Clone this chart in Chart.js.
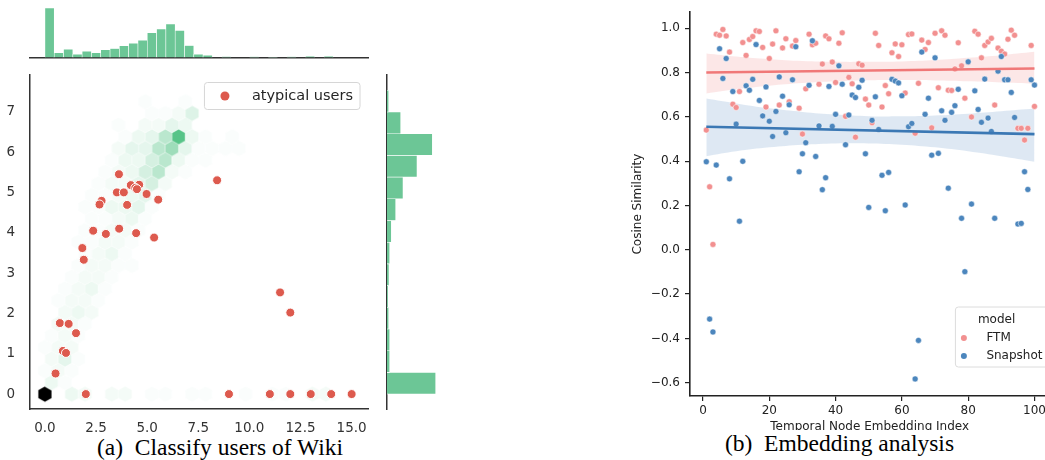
<!DOCTYPE html>
<html>
<head>
<meta charset="utf-8">
<script src="https://cdn.jsdelivr.net/npm/chart.js@4.4.1/dist/chart.umd.min.js"></script>
<style>
  html, body { margin: 0; padding: 0; background: #fff; }
  body { width: 1045px; height: 460px; position: relative; overflow: hidden; }
  canvas { position: absolute; left: 0; top: 0; }
  .cap { position: absolute; font-family: "Liberation Serif", "Times New Roman", serif; font-size: 23.5px; color: #000; white-space: nowrap; background: #fff; text-align: center; line-height: 26px; }
</style>
</head>
<body>
<canvas id="hexMain" width="1045" height="460"></canvas>
<canvas id="histTop" width="1045" height="460"></canvas>
<canvas id="histSide" width="1045" height="460"></canvas>
<canvas id="embed" width="1100" height="460"></canvas>
<div class="cap" style="left:60px;top:434px;width:320px;">(a)&ensp;Classify users of Wiki</div>
<div class="cap" style="left:640px;top:430px;width:399px;">(b)&ensp;Embedding analysis</div>
<script>
// ---- (a) left panel data ----
const topBinWidth = 0.455;
const topHistCounts = [148, 14, 25, 10, 19, 14, 23, 27, 35, 43, 52, 74, 85, 100, 81, 36,
  10, 7, 0, 3, 0, 0, 2, 0, 1, 0, 2, 0, 4, 0, 4];
const sideBinWidth = 0.538;
const sideHistCounts = [146, 8, 8, 5, 3, 6, 8, 13, 26, 48, 90, 136, 41, 5];

// hexbin cells: column / row index in the hex grid and count
const hexDx = 0.654, hexDy = 0.29, hexVmax = 20;
const hexCol = [
  0, 2, 3, 5, 6, 8, 9, 11, 12, 15, 17, 18, 20, 21,
  0.5, 1.5,
  0, 1, 2,
  0.5, 1.5, 2.5,
  0, 1, 2,
  0.5, 1.5, 2.5,
  1, 2, 3,
  1.5, 2.5, 3.5,
  1, 2, 3, 4,
  1.5, 2.5, 3.5, 4.5,
  2, 3, 4, 5,
  2.5, 3.5, 4.5, 5.5, 6.5,
  3, 4, 5, 6,
  2.5, 3.5, 4.5, 5.5, 6.5,
  3, 4, 5, 6, 7,
  3.5, 4.5, 5.5, 6.5, 7.5,
  3, 4, 5, 6, 7, 8,
  3.5, 4.5, 5.5, 6.5, 7.5, 8.5,
  4, 5, 6, 7, 8, 9,
  4.5, 5.5, 6.5, 7.5, 8.5, 9.5, 10.5,
  5, 6, 7, 8, 9, 10, 11, 12,
  5.5, 6.5, 7.5, 8.5, 9.5, 10.5, 11.5, 12.5, 13.5, 14.5,
  6, 7, 8, 9, 10, 11, 12, 14,
  5.5, 7.5, 8.5, 9.5, 10.5,
  8, 9, 10, 11,
  7.5, 10.5];
const hexRow = [
  0, 0, 0, 0, 0, 0, 0, 0, 0, 0, 0, 0, 0, 0,
  1, 1,
  2, 2, 2,
  3, 3, 3,
  4, 4, 4,
  5, 5, 5,
  6, 6, 6,
  7, 7, 7,
  8, 8, 8, 8,
  9, 9, 9, 9,
  10, 10, 10, 10,
  11, 11, 11, 11, 11,
  12, 12, 12, 12,
  13, 13, 13, 13, 13,
  14, 14, 14, 14, 14,
  15, 15, 15, 15, 15,
  16, 16, 16, 16, 16, 16,
  17, 17, 17, 17, 17, 17,
  18, 18, 18, 18, 18, 18,
  19, 19, 19, 19, 19, 19, 19,
  20, 20, 20, 20, 20, 20, 20, 20,
  21, 21, 21, 21, 21, 21, 21, 21, 21, 21,
  22, 22, 22, 22, 22, 22, 22, 22,
  23, 23, 23, 23, 23,
  24, 24, 24, 24,
  25, 25];
const hexCount = [
  400, 3, 2, 2, 2, 1, 1, 1, 1, 1, 1, 1, 2, 2,
  3, 1,
  1, 2, 1,
  2, 4, 1,
  1, 2, 2,
  1, 2, 1,
  2, 2, 1,
  2, 3, 2,
  1, 2, 2, 1,
  1, 2, 3, 1,
  1, 2, 2, 1,
  1, 2, 2, 1, 1,
  1, 2, 3, 1,
  1, 1, 2, 2, 1,
  1, 1, 2, 2, 1,
  1, 1, 2, 3, 1,
  1, 1, 3, 3, 4, 1,
  1, 1, 2, 3, 4, 1,
  1, 2, 2, 4, 6, 2,
  1, 2, 3, 6, 9, 2, 1,
  1, 3, 3, 6, 9, 3, 1, 1,
  2, 4, 4, 9, 12, 4, 1, 1, 1, 1,
  1, 3, 4, 9, 19, 3, 1, 1,
  1, 2, 2, 4, 3,
  1, 1, 2, 5,
  1, 1];

const atypX = [2, 9, 11, 12, 13, 14, 15, 11.5, 12.0,
  0.73, 1.16, 1.52, 0.88, 1.03, 0.52, 1.83, 1.9,
  3.62, 4.2, 4.61, 4.42, 4.5, 3.52, 3.86, 4.97, 5.54, 2.77, 2.67, 4.02, 8.42,
  2.36, 2.98, 3.63, 4.46, 5.34];
const atypY = [0, 0, 0, 0, 0, 0, 0, 2.52, 2.02,
  1.76, 1.74, 1.51, 1.07, 1.02, 0.51, 3.62, 3.33,
  5.45, 5.18, 5.19, 5.11, 5.08, 5.0, 5.0, 4.96, 4.82, 4.79, 4.7, 4.69, 5.3,
  4.05, 3.97, 4.1, 3.99, 3.88];

// ---- (b) right panel data (index 1..100) ----
const ftmSim = [
  0.54, 0.284, 0.024, 0.973, 0.968, 0.994, 0.965, 0.892, 0.657, 0.642,
  0.714, 0.935, 0.877, 0.949, 0.962, 0.988, 0.985, 0.913, 0.644, 0.863,
  0.928, 0.988, 0.653, 0.911, 0.952, 0.668, 0.919, 0.944, 0.639, 0.522,
  0.726, 0.973, 0.925, 0.932, 0.747, 0.838, 0.965, 0.952, 0.847, 0.755,
  0.932, 0.979, 0.602, 0.778, 0.749, 0.508, 0.839, 0.833, 0.68, 0.653,
  0.573, 0.977, 0.922, 0.644, 0.741, 0.704, 0.889, 0.929, 0.872, 0.925,
  0.707, 0.971, 0.974, 0.526, 0.751, 0.946, 0.904, 0.935, 0.55, 0.977,
  0.731, 0.988, 0.968, 0.72, 0.719, 0.816, 0.934, 0.83, 0.684, 0.845,
  0.599, 0.986, 0.973, 0.866, 0.922, 0.938, 0.954, 0.653, 0.91, 0.896,
  0.883, 0.95, 0.991, 0.968, 0.548, 0.548, 0.495, 0.548, 0.922, 0.647];
const snapSim = [
  0.397, -0.313, -0.371, 0.382, 0.907, 0.773, 0.863, 0.32, 0.714, 0.567,
  0.129, 0.399, 0.74, 0.72, 0.769, 0.926, 0.674, 0.604, 0.735, 0.58,
  0.511, 0.624, 0.78, 0.693, 0.528, 0.654, 0.767, 0.916, 0.352, 0.433,
  0.483, 0.742, 0.943, 0.421, 0.559, 0.271, 0.325, 0.737, 0.557, 0.611,
  0.83, 0.747, 0.474, 0.608, 0.698, 0.687, 0.733, 0.765, 0.433, 0.191,
  0.584, 0.69, 0.543, 0.336, 0.176, 0.349, 0.769, 0.761, 0.753, 0.695,
  0.202, 0.555, 0.57, -0.583, -0.409, 0.892, 0.611, 0.684, 0.427, 0.866,
  0.435, 0.627, 0.584, 0.278, 0.62, 0.65, 0.724, 0.142, -0.099, 0.848,
  0.206, 0.717, 0.633, 0.575, 0.77, 0.594, 0.534, 0.142, 0.806, 0.872,
  0.767, 0.767, 0.71, 0.597, 0.116, 0.119, 0.352, 0.272, 0.767, 0.743];
const fitX = [1, 100];
const ftmFit = [0.80, 0.818];
const snapFit = [0.555, 0.522];
const bandX = [1, 10, 20, 30, 40, 50, 60, 70, 80, 90, 100];
const ftmUpper = [0.886, 0.872, 0.860, 0.852, 0.848, 0.848, 0.850, 0.856, 0.866, 0.878, 0.893];
const ftmLower = [0.705, 0.724, 0.740, 0.752, 0.760, 0.765, 0.766, 0.764, 0.760, 0.755, 0.750];
const snapUpper = [0.682, 0.660, 0.638, 0.622, 0.610, 0.603, 0.602, 0.606, 0.614, 0.625, 0.637];
const snapLower = [0.422, 0.444, 0.462, 0.474, 0.480, 0.480, 0.474, 0.462, 0.444, 0.422, 0.397];

Chart.defaults.font.family = "'DejaVu Sans', sans-serif";
const GREEN = '#6cc696', RED_DOT = '#dd5a4e';
const FTM_COL = '#f29090', SNAP_COL = '#4c86bd';

const pts = (xs, ys) => xs.map((x, i) => ({x: x, y: ys[i]}));
const fmt1 = v => { const r = Math.round(v * 10) / 10; return (r < 0 ? '\u2212' : '') + Math.abs(r).toFixed(1); };

// hexagon images for the hexbin
const hexCache = {};
function hexColor(n) {
  if (n > hexVmax) return '#000000';
  const t = Math.pow(n / hexVmax, 1.2);
  const r = Math.round(255 - t * (255 - 76)), g = Math.round(255 - t * (255 - 192)), b = Math.round(255 - t * (255 - 128));
  return 'rgb(' + r + ',' + g + ',' + b + ')';
}
function hexStyle(ctx) {
  if (ctx.type !== 'data' || !ctx.raw) return 'circle';
  const sx = ctx.chart.scales.x, sy = ctx.chart.scales.y;
  const w = sx.getPixelForValue(hexDx) - sx.getPixelForValue(0);
  const h = (sy.getPixelForValue(0) - sy.getPixelForValue(hexDy)) * 4 / 3;
  const col = hexColor(ctx.raw.n);
  const key = col + '|' + w.toFixed(2) + '|' + h.toFixed(2);
  if (!hexCache[key]) {
    const cv = document.createElement('canvas');
    cv.width = Math.ceil(w) + 2;
    cv.height = Math.ceil(h) + 2;
    const c = cv.getContext('2d');
    const cx = cv.width / 2, cy = cv.height / 2;
    c.beginPath();
    c.moveTo(cx, cy - h / 2);
    c.lineTo(cx + w / 2, cy - h / 4);
    c.lineTo(cx + w / 2, cy + h / 4);
    c.lineTo(cx, cy + h / 2);
    c.lineTo(cx - w / 2, cy + h / 4);
    c.lineTo(cx - w / 2, cy - h / 4);
    c.closePath();
    c.fillStyle = col;
    c.fill();
    c.strokeStyle = 'rgba(255,255,255,0.45)';
    c.lineWidth = 0.4;
    c.stroke();
    hexCache[key] = cv;
  }
  return hexCache[key];
}

function roundBox(c, x, y, w, h, r) {
  c.beginPath();
  c.moveTo(x + r, y);
  c.lineTo(x + w - r, y);
  c.quadraticCurveTo(x + w, y, x + w, y + r);
  c.lineTo(x + w, y + h - r);
  c.quadraticCurveTo(x + w, y + h, x + w - r, y + h);
  c.lineTo(x + r, y + h);
  c.quadraticCurveTo(x, y + h, x, y + h - r);
  c.lineTo(x, y + r);
  c.quadraticCurveTo(x, y, x + r, y);
  c.closePath();
}

const atypLegend = {
  id: 'atypLegend',
  afterDraw(chart) {
    const c = chart.ctx, a = chart.chartArea;
    const label = chart.data.datasets[0].label;
    c.save();
    c.font = '14.5px "DejaVu Sans"';
    const tw = c.measureText(label).width;
    const bw = 47.5 + tw + 7, bh = 27;
    const bx = a.right - 8 - bw, by = a.top + 7.5;
    roundBox(c, bx, by, bw, bh, 3);
    c.fillStyle = 'rgba(255,255,255,0.85)';
    c.fill();
    c.strokeStyle = '#d6d6d6';
    c.lineWidth = 1;
    c.stroke();
    c.beginPath();
    c.arc(bx + 20.5, by + bh / 2, 4.5, 0, Math.PI * 2);
    c.fillStyle = RED_DOT;
    c.fill();
    c.fillStyle = '#262626';
    c.textBaseline = 'middle';
    c.fillText(label, bx + 47.5, by + bh / 2 + 0.5);
    c.restore();
  }
};

const modelLegend = {
  id: 'modelLegend',
  afterDraw(chart) {
    const c = chart.ctx, a = chart.chartArea;
    const bx = a.right - 94, by = a.bottom - 89, bw = 120, bh = 60;
    c.save();
    roundBox(c, bx, by, bw, bh, 3);
    c.fillStyle = 'rgba(255,255,255,0.85)';
    c.fill();
    c.strokeStyle = '#dcdcdc';
    c.lineWidth = 1;
    c.stroke();
    c.font = '12px "DejaVu Sans"';
    c.textBaseline = 'middle';
    c.fillStyle = '#222';
    c.fillText('model', bx + 22.5, by + 12.5);
    const items = [['FTM', FTM_COL, 31], ['Snapshot', SNAP_COL, 49]];
    items.forEach(it => {
      c.beginPath();
      c.arc(bx + 8.5, by + it[2], 3, 0, Math.PI * 2);
      c.fillStyle = it[1];
      c.fill();
      c.fillStyle = '#222';
      c.fillText(it[0], bx + 31, by + it[2]);
    });
    c.restore();
  }
};

const X_MIN = -0.73, X_MAX = 15.8, Y_MIN = -0.37, Y_MAX = 7.91;
const spine = {color: '#333', width: 1.5};
const tickFont = {size: 13.5};
// hidden ticks on the histogram bin axes: one far apart step so they do not narrow the bars
const hiddenTicks = {display: false, stepSize: 100, includeBounds: false};

// main hexbin + atypical users
new Chart(document.getElementById('hexMain'), {
  type: 'scatter',
  data: {
    datasets: [{
      label: 'atypical users',
      data: pts(atypX, atypY),
      backgroundColor: RED_DOT,
      borderColor: '#fff',
      borderWidth: 1,
      pointRadius: 4.5,
      order: 0
    }, {
      label: 'hex',
      data: hexCol.map((c, i) => ({x: c * hexDx, y: hexRow[i] * hexDy, n: hexCount[i]})),
      pointStyle: hexStyle,
      pointRadius: 7,
      order: 1
    }]
  },
  options: {
    responsive: false,
    animation: false,
    layout: {padding: {left: 0, top: 75, right: 677, bottom: 21}},
    plugins: {legend: {display: false}, tooltip: {enabled: false}},
    scales: {
      x: {
        type: 'linear', min: X_MIN, max: X_MAX,
        afterFit: s => { s.height = 30; },
        grid: {display: false, drawTicks: false},
        border: spine,
        ticks: {stepSize: 2.5, includeBounds: false, padding: 11, color: '#333', font: tickFont, callback: v => v.toFixed(1)}
      },
      y: {
        min: Y_MIN, max: Y_MAX,
        afterFit: s => { s.width = 30; },
        grid: {display: false, drawTicks: false},
        border: spine,
        ticks: {stepSize: 1, includeBounds: false, padding: 15, color: '#333', font: tickFont}
      }
    }
  },
  plugins: [atypLegend]
});

// marginal histogram on top
new Chart(document.getElementById('histTop'), {
  type: 'bar',
  data: {
    datasets: [{
      data: topHistCounts.map((c, i) => ({x: (i + 0.5) * topBinWidth, y: c})),
      backgroundColor: GREEN,
      borderColor: '#fff',
      borderWidth: 0.6,
      barPercentage: 1,
      categoryPercentage: 1
    }]
  },
  options: {
    responsive: false,
    animation: false,
    layout: {padding: {left: 30, top: 0, right: 677, bottom: 402.5}},
    plugins: {legend: {display: false}, tooltip: {enabled: false}},
    scales: {
      x: {
        type: 'linear', offset: false, min: X_MIN, max: X_MAX,
        afterFit: s => { s.height = 0; },
        ticks: hiddenTicks,
        grid: {display: false, drawTicks: false},
        border: spine
      },
      y: {display: false, min: 0, max: 172}
    }
  }
});

// marginal histogram on the right
new Chart(document.getElementById('histSide'), {
  type: 'bar',
  data: {
    datasets: [{
      data: sideHistCounts.map((c, i) => ({y: (i + 0.5) * sideBinWidth, x: c})),
      backgroundColor: GREEN,
      borderColor: '#fff',
      borderWidth: 0.6,
      barPercentage: 1,
      categoryPercentage: 1
    }]
  },
  options: {
    indexAxis: 'y',
    responsive: false,
    animation: false,
    layout: {padding: {left: 387, top: 75, right: 603, bottom: 51}},
    plugins: {legend: {display: false}, tooltip: {enabled: false}},
    scales: {
      y: {
        type: 'linear', offset: false, min: Y_MIN, max: Y_MAX,
        afterFit: s => { s.width = 0; },
        ticks: hiddenTicks,
        grid: {display: false, drawTicks: false},
        border: spine
      },
      x: {display: false, min: 0, max: 165}
    }
  }
});

// (b) embedding analysis
const embedIdx = ftmSim.map((v, i) => i + 1);
const axisInk = '#222';
const lbl = {size: 12};
new Chart(document.getElementById('embed'), {
  type: 'scatter',
  data: {
    datasets: [
      {type: 'line', label: 'ftmUp', data: pts(bandX, ftmUpper), borderWidth: 0, pointRadius: 0, tension: 0.4, fill: false, order: 10},
      {type: 'line', label: 'ftmLo', data: pts(bandX, ftmLower), borderWidth: 0, pointRadius: 0, tension: 0.4, fill: '-1', backgroundColor: 'rgba(240,120,120,0.18)', order: 10},
      {type: 'line', label: 'snapUp', data: pts(bandX, snapUpper), borderWidth: 0, pointRadius: 0, tension: 0.4, fill: false, order: 9},
      {type: 'line', label: 'snapLo', data: pts(bandX, snapLower), borderWidth: 0, pointRadius: 0, tension: 0.4, fill: '-1', backgroundColor: 'rgba(58,120,181,0.17)', order: 9},
      {label: 'FTM', data: pts(embedIdx, ftmSim), backgroundColor: FTM_COL, borderColor: '#fff', borderWidth: 0.5, pointRadius: 3, order: 4},
      {label: 'Snapshot', data: pts(embedIdx, snapSim), backgroundColor: SNAP_COL, borderColor: '#fff', borderWidth: 0.5, pointRadius: 3, order: 3},
      {type: 'line', label: 'ftmFit', data: pts(fitX, ftmFit), borderColor: '#f07878', borderWidth: 2.6, pointRadius: 0, fill: false, order: 1},
      {type: 'line', label: 'snapFit', data: pts(fitX, snapFit), borderColor: '#3b78b4', borderWidth: 2.6, pointRadius: 0, fill: false, order: 0}
    ]
  },
  options: {
    responsive: false,
    animation: false,
    layout: {padding: {left: 630, top: 12, right: 50.6, bottom: 24}},
    plugins: {legend: {display: false}, tooltip: {enabled: false}},
    scales: {
      x: {
        type: 'linear', min: -3.92, max: 104.5,
        afterFit: s => { s.height = 40; },
        grid: {drawOnChartArea: false, drawTicks: true, tickLength: 5, color: axisInk, lineWidth: 1.2},
        border: {color: axisInk, width: 1.6},
        ticks: {stepSize: 20, includeBounds: false, padding: 2.5, color: axisInk, font: lbl},
        title: {display: true, text: 'Temporal Node Embedding Index', color: axisInk, font: lbl, padding: {top: 0, bottom: 1.8}}
      },
      y: {
        min: -0.66, max: 1.072,
        afterFit: s => { s.width = 60; },
        grid: {drawOnChartArea: false, drawTicks: true, tickLength: 5, color: axisInk, lineWidth: 1.2},
        border: {color: axisInk, width: 1.6},
        ticks: {stepSize: 0.2, includeBounds: false, padding: 5, color: axisInk, font: lbl, callback: fmt1},
        title: {display: true, text: 'Cosine Similarity', color: axisInk, font: lbl, padding: {top: 1, bottom: 0}}
      }
    }
  },
  plugins: [modelLegend]
});
</script>
</body>
</html>
